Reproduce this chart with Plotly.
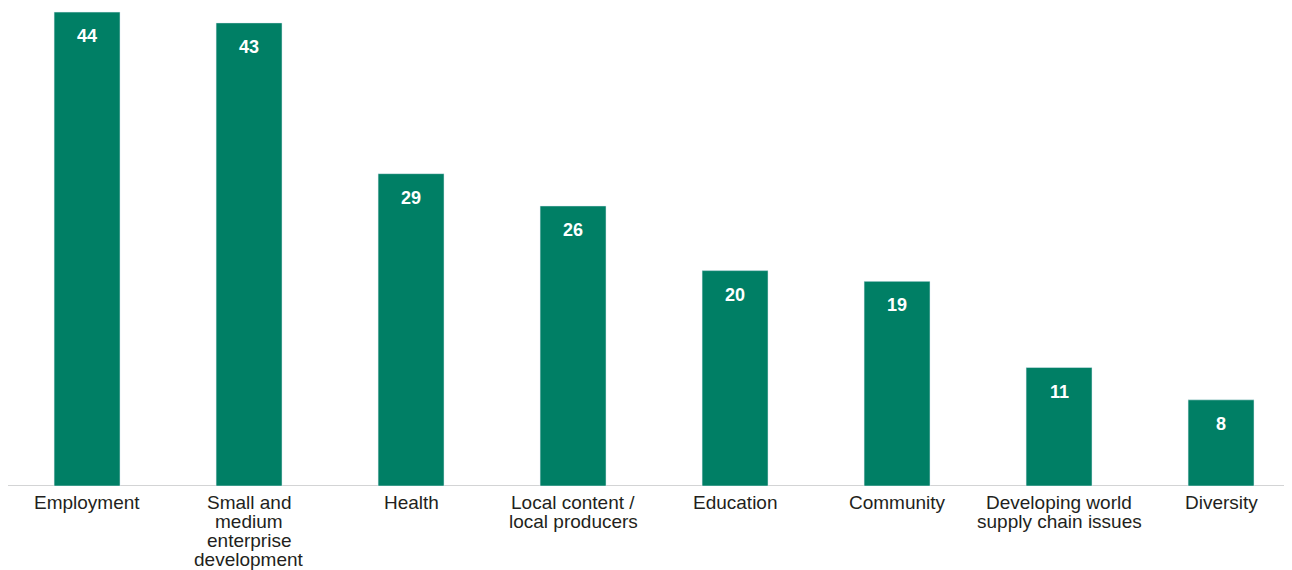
import plotly.graph_objects as go

categories = ["Employment", "Small and<br>medium<br>enterprise<br>development", "Health",
              "Local content /<br>local producers", "Education", "Community",
              "Developing world<br>supply chain issues", "Diversity"]
values = [44, 43, 29, 26, 20, 19, 11, 8]

BAR = "#007f65"
TXT = "#231f20"

x = list(range(len(categories)))
fig = go.Figure(go.Bar(x=x, y=values, marker_color=BAR, width=0.407,
                       hoverinfo="skip"))

annotations = []
for i, (c, v) in enumerate(zip(categories, values)):
    annotations.append(dict(x=i, y=v, xref="x", yref="y", text=f"<b>{v}</b>",
                            showarrow=False, yanchor="top", yshift=-12,
                            font=dict(family="Liberation Sans, Arial", size=18, color="white")))
    for k, line in enumerate(c.split("<br>")):
        annotations.append(dict(x=i, y=0, xref="x", yref="y", text=line,
                                showarrow=False, yanchor="top", yshift=-4 - 19 * k,
                                font=dict(family="Liberation Sans, Arial", size=19, color=TXT)))

fig.update_layout(
    width=1292, height=570,
    margin=dict(l=0, r=8, t=2, b=92),
    paper_bgcolor="white", plot_bgcolor="white",
    showlegend=False,
    annotations=annotations,
    xaxis=dict(range=[-0.488, 7.438], showticklabels=False, showgrid=False,
               zeroline=False, showline=False, ticks=""),
    yaxis=dict(range=[0, 476 / 10.77], visible=False, showgrid=False, zeroline=False),
    shapes=[dict(type="line", xref="paper", yref="y", x0=0, x1=1.02, y0=0, y1=0,
                 line=dict(color="#a7a9ac", width=1.2), layer="below")],
)

fig.write_html("out.html")
